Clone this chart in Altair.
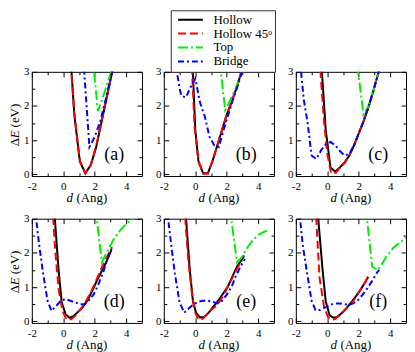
import altair as alt
import pandas as pd

FONT = "Liberation Serif"
SERIES = ["Hollow", "Hollow 45ᵒ", "Top", "Bridge"]
COLORS = ["#000000", "#ff0000", "#00ee00", "#0000ff"]
DASHES = [[1, 0], [8, 4], [10, 3, 2, 3], [6, 3, 2, 3]]
PANEL_LABELS = ["(a)", "(b)", "(c)", "(d)", "(e)", "(f)"]
X_MAJOR = [-2, 0, 2, 4]
X_MINOR = [-1, 1, 3]
Y_MAJOR = [0, 1, 2, 3]
Y_MINOR = [0.5, 1.5, 2.5]

# (d, dE) pairs
a_hollow = [(0.45, 3.5), (0.7, 1.75), (1.05, 0.38), (1.4, 0.03), (1.75, 0.27), (2.1, 0.82), (2.45, 1.58), (2.8, 2.33), (3.15, 3.1)]
a_h45 = [(0.42, 3.6), (0.7, 1.8), (1.05, 0.4), (1.4, 0.03), (1.75, 0.28), (2.1, 0.85), (2.45, 1.6), (2.8, 2.35), (3.15, 3.12)]
a_top = [(1.85, 3.5), (2.2, 1.85), (2.55, 2.3), (2.9, 2.8), (3.2, 3.2)]
a_bridge = [(1.25, 3.5), (1.45, 2.2), (1.66, 0.8), (2.0, 1.1), (2.35, 1.55), (2.7, 2.2), (3.05, 2.9), (3.2, 3.2)]

b_hollow = [(-0.2, 3.5), (0.0, 1.3), (0.2, 0.38), (0.5, 0.03), (0.8, 0.03), (1.1, 0.4), (1.4, 0.85), (1.7, 1.3), (2.0, 1.75), (2.3, 2.1), (2.6, 2.5), (2.9, 2.95), (3.1, 3.25)]
b_h45 = [(-0.25, 3.5), (-0.05, 1.4), (0.2, 0.4), (0.5, 0.02), (0.8, 0.02), (1.1, 0.4), (1.4, 0.85), (1.7, 1.3), (2.0, 1.75), (2.3, 2.12), (2.6, 2.52), (2.9, 2.97), (3.1, 3.27)]
b_top = [(1.55, 3.3), (1.9, 1.88), (2.25, 2.2), (2.6, 2.55), (2.95, 3.0), (3.1, 3.2)]
b_bridge = [(-1.3, 3.3), (-0.9, 2.3), (-0.6, 2.25), (-0.3, 2.55), (0.0, 2.8), (0.3, 2.1), (0.6, 1.7), (0.9, 1.1), (1.2, 0.85), (1.5, 0.8), (1.8, 1.3), (2.1, 1.75), (2.4, 2.2), (2.7, 2.6), (3.0, 3.05)]

c_hollow = [(-0.4, 3.4), (-0.1, 1.3), (0.2, 0.2), (0.5, 0.08), (0.8, 0.2), (1.1, 0.35), (1.4, 0.55), (1.7, 0.85), (2.0, 1.2), (2.3, 1.55), (2.6, 1.95), (2.9, 2.4), (3.2, 2.9), (3.35, 3.15)]
c_h45 = [(-0.5, 3.4), (-0.2, 1.5), (0.0, 0.6), (0.25, 0.02), (0.55, 0.05), (0.85, 0.22), (1.1, 0.33), (1.4, 0.55), (1.7, 0.85), (2.0, 1.2), (2.3, 1.55), (2.6, 1.95), (2.9, 2.4), (3.2, 2.9), (3.35, 3.15)]
c_top = [(1.9, 3.2), (2.3, 1.75), (2.6, 1.98), (2.9, 2.4), (3.2, 2.9), (3.35, 3.15)]
c_bridge = [(-1.75, 3.4), (-1.5, 2.2), (-1.25, 1.5), (-1.0, 0.55), (-0.7, 0.45), (-0.4, 0.7), (-0.1, 0.88), (0.2, 0.95), (0.5, 0.85), (0.8, 0.68), (1.1, 0.55), (1.4, 0.6), (1.7, 0.85), (2.0, 1.2), (2.3, 1.55), (2.6, 1.95), (2.9, 2.4), (3.2, 2.9), (3.35, 3.15)]

d_hollow = [(-0.6, 3.4), (-0.3, 1.5), (-0.1, 0.55), (0.15, 0.2), (0.4, 0.1), (0.65, 0.15), (0.95, 0.28), (1.25, 0.42), (1.55, 0.62), (1.85, 0.9), (2.15, 1.2), (2.45, 1.48), (2.75, 1.75), (3.05, 2.08)]
d_h45 = [(-0.7, 3.4), (-0.5, 2.0), (-0.3, 0.95), (-0.05, 0.3), (0.2, 0.05), (0.5, 0.06), (0.8, 0.17), (1.1, 0.35), (1.4, 0.55), (1.7, 0.8), (2.0, 1.1), (2.3, 1.42), (2.6, 1.72), (2.9, 2.0), (3.1, 2.17)]
d_top = [(2.05, 3.3), (2.45, 1.72), (2.8, 2.05), (3.2, 2.4), (3.6, 2.65), (4.0, 2.85), (4.4, 3.0), (4.8, 3.15)]
d_bridge = [(-1.8, 3.3), (-1.55, 2.3), (-1.3, 1.45), (-1.0, 0.6), (-0.75, 0.3), (-0.45, 0.45), (-0.15, 0.6), (0.15, 0.65), (0.45, 0.6), (0.75, 0.55), (1.05, 0.5), (1.35, 0.5), (1.65, 0.62), (1.95, 0.8), (2.25, 1.1), (2.55, 1.45), (2.85, 1.9), (3.15, 2.2)]

e_hollow = [(-0.65, 3.4), (-0.35, 1.5), (-0.15, 0.58), (0.05, 0.25), (0.3, 0.11), (0.55, 0.12), (0.85, 0.25), (1.15, 0.43), (1.45, 0.6), (1.75, 0.8), (2.05, 1.0), (2.35, 1.3), (2.65, 1.6), (2.95, 1.8), (3.1, 1.92)]
e_h45 = [(-0.7, 3.4), (-0.45, 1.8), (-0.2, 0.75), (0.0, 0.25), (0.2, 0.04), (0.45, 0.06), (0.75, 0.2), (1.05, 0.35), (1.35, 0.45), (1.65, 0.65), (1.95, 0.9), (2.25, 1.18), (2.55, 1.45), (2.85, 1.7), (2.95, 1.77)]
e_top = [(2.2, 3.3), (2.65, 1.72), (3.0, 1.9), (3.3, 2.15), (3.7, 2.4), (4.1, 2.55), (4.4, 2.62), (4.7, 2.68)]
e_bridge = [(-1.8, 3.3), (-1.55, 2.3), (-1.3, 1.4), (-1.0, 0.55), (-0.7, 0.25), (-0.4, 0.38), (-0.1, 0.5), (0.2, 0.57), (0.5, 0.6), (0.8, 0.6), (1.1, 0.57), (1.4, 0.52), (1.7, 0.6), (2.0, 0.78), (2.3, 1.0), (2.6, 1.35), (2.9, 1.62), (3.15, 1.82)]

f_hollow = [(-0.65, 3.4), (-0.3, 1.5), (-0.1, 0.58), (0.15, 0.17), (0.4, 0.1), (0.65, 0.13), (0.95, 0.25), (1.25, 0.4), (1.55, 0.57), (1.85, 0.75), (2.15, 0.95), (2.45, 1.18), (2.6, 1.3)]
f_h45 = [(-0.75, 3.4), (-0.5, 1.3), (-0.2, 0.4), (0.05, 0.12), (0.25, 0.04), (0.5, 0.06), (0.8, 0.2), (1.1, 0.32), (1.4, 0.45), (1.7, 0.62), (2.0, 0.85), (2.3, 1.05), (2.55, 1.27)]
f_top = [(2.45, 3.3), (2.85, 1.6), (3.2, 1.5), (3.5, 1.7), (3.85, 1.95), (4.2, 2.15), (4.6, 2.3), (5.0, 2.45)]
f_bridge = [(-1.8, 3.3), (-1.55, 2.2), (-1.3, 1.45), (-1.0, 0.6), (-0.75, 0.33), (-0.45, 0.33), (-0.15, 0.4), (0.15, 0.47), (0.45, 0.52), (0.75, 0.52), (1.05, 0.5), (1.35, 0.48), (1.65, 0.52), (1.95, 0.62), (2.25, 0.78), (2.55, 0.97), (2.85, 1.18), (3.15, 1.42), (3.3, 1.5)]

PANELS = [
    [a_hollow, a_h45, a_top, a_bridge],
    [b_hollow, b_h45, b_top, b_bridge],
    [c_hollow, c_h45, c_top, c_bridge],
    [d_hollow, d_h45, d_top, d_bridge],
    [e_hollow, e_h45, e_top, e_bridge],
    [f_hollow, f_h45, f_top, f_bridge],
]

W, H = 111, 105
XS = alt.Scale(domain=[-2, 5], nice=False, zero=False)
YS = alt.Scale(domain=[-0.05, 3], nice=False, zero=False)

COMMON = dict(grid=False, domain=False, tickColor="black", tickWidth=1,
              labelFlush=False, labelOverlap=False)
TITLE = dict(titleFont=FONT, titleFontSize=13, titleFontWeight="normal",
             titleColor="black", titleAlign="left", titleBaseline="alphabetic")

# pieces of the axis titles ("d (Ang)" and "ΔE (eV)", with d and E in italics)
X_TITLE_D, X_TITLE_REST = "d", "(Ang)"
Y_TITLE_DELTA, Y_TITLE_E, Y_TITLE_REST = "Δ", "E", "(eV)"
XT0 = W / 2 - 21
YT0 = H / 2 + 22


def tick_axis(orient, values, size, **kw):
    return alt.Axis(orient=orient, values=values, tickSize=size, offset=-size,
                    labels=False, **COMMON, **kw)


legend = alt.Legend(title=None, orient="none", legendX=140, legendY=-62,
                    symbolType="M-0.4,0H4.15", symbolSize=121, symbolStrokeWidth=2,
                    labelFont=FONT, labelFontSize=13, labelColor="black",
                    strokeColor="#333333", fillColor="white", padding=3,
                    rowPadding=0, labelOffset=27)


def panel(idx):
    rows = []
    for s, pts in zip(SERIES, PANELS[idx]):
        for k, (d, e) in enumerate(pts):
            rows.append({"series": s, "d": d, "E": e, "k": k})
    df = pd.DataFrame(rows)
    left = idx % 3 == 0
    ykw = lambda t, x, y, italic=False: (
        dict(title=t, titleAngle=270, titleX=x, titleY=y,
             titleFontStyle="italic" if italic else "normal", **TITLE)
        if left else dict(title=None))

    x_main = alt.Axis(orient="bottom", values=X_MAJOR, tickSize=5, offset=-5,
                      labelExpr="toString(datum.value)", labelFont=FONT,
                      labelFontSize=11, labelPadding=5, labelColor="black",
                      title=X_TITLE_REST, titleX=XT0 + 10, titleY=31, **TITLE,
                      **COMMON)
    y_main = alt.Axis(orient="left", values=Y_MAJOR, tickSize=5, offset=-5,
                      labelFont=FONT, labelFontSize=11, labelPadding=3,
                      labelColor="black", **ykw(Y_TITLE_DELTA, -18, YT0),
                      **COMMON)
    lines = alt.Chart(df).mark_line(clip=True, strokeWidth=2).encode(
        x=alt.X("d:Q", scale=XS, axis=x_main),
        y=alt.Y("E:Q", scale=YS, axis=y_main),
        color=alt.Color("series:N", scale=alt.Scale(domain=SERIES, range=COLORS), legend=legend),
        strokeDash=alt.StrokeDash("series:N", scale=alt.Scale(domain=SERIES, range=DASHES), legend=legend),
        order="k:Q",
    )

    def ghost(xa, ya):
        return alt.Chart(df).mark_point(opacity=0, size=0, clip=True).encode(
            x=alt.X("d:Q", scale=XS, axis=xa), y=alt.Y("E:Q", scale=YS, axis=ya))

    g1 = ghost(
        tick_axis("bottom", X_MINOR, 3, title=X_TITLE_D, titleX=XT0, titleY=29,
                  titleFontStyle="italic", **TITLE),
        tick_axis("left", Y_MINOR, 3, **ykw(Y_TITLE_E, -16, YT0 - 8, True)))
    g2 = ghost(tick_axis("top", X_MAJOR, 5, title=None),
               tick_axis("right", Y_MAJOR, 5, title=None))
    g3 = ghost(tick_axis("top", X_MINOR, 3, title=None),
               tick_axis("right", Y_MINOR, 3, title=None))
    layers = [lines, g1, g2, g3]
    if left:
        g4 = ghost(alt.Axis(orient="top", ticks=False, labels=False, domain=False,
                            grid=False, title=None),
                   alt.Axis(orient="left", ticks=False, labels=False, domain=False,
                            grid=False, **ykw(Y_TITLE_REST, -13, YT0 - 19)))
        layers.append(g4)
    txt = alt.Chart(pd.DataFrame({"t": [PANEL_LABELS[idx]]})).mark_text(
        font=FONT, fontSize=18, align="center", baseline="middle", color="black"
    ).encode(text="t:N", x=alt.value(W - 28), y=alt.value(H - 21))
    layers.append(txt)
    return alt.layer(*layers).resolve_axis(
        x="independent", y="independent").properties(width=W, height=H)


chart = alt.concat(*[panel(i) for i in range(6)], columns=3,
                   spacing={"row": 43, "column": 22}, bounds="flush").properties(
    padding=0).configure_view(stroke="black", strokeWidth=1)

chart.save("out.html", embed_options={"renderer": "svg", "actions": False})
